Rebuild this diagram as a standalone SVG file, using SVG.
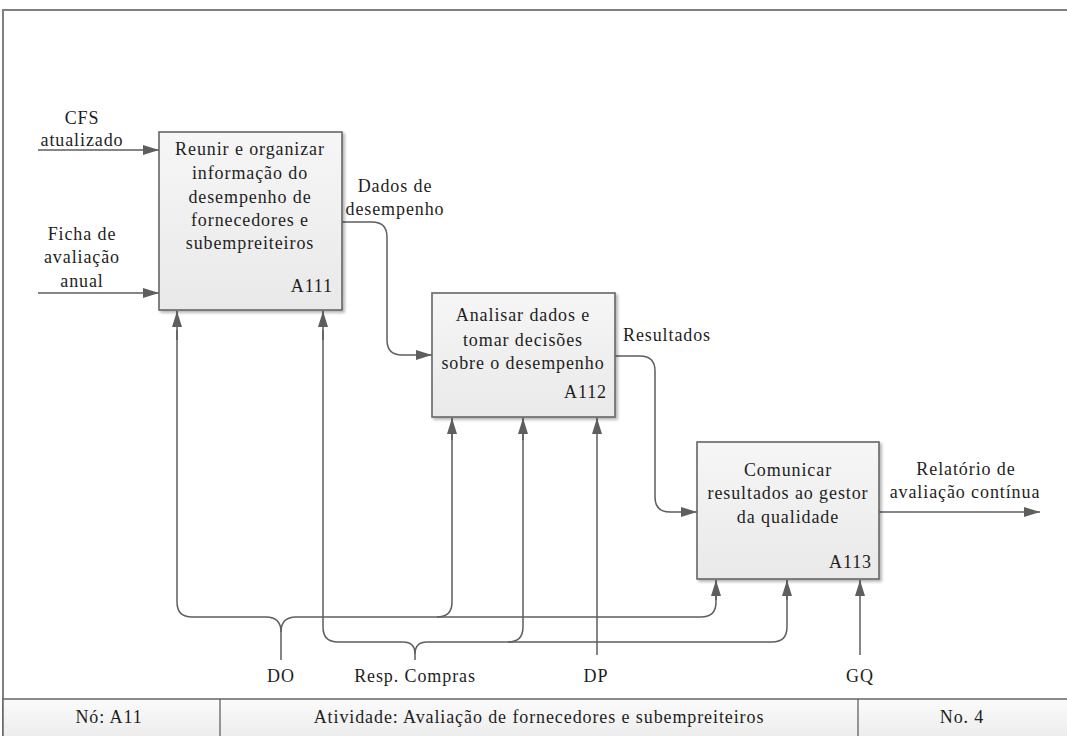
<svg xmlns="http://www.w3.org/2000/svg" width="1067" height="736" viewBox="0 0 1067 736" font-family="Liberation Serif, serif">
<defs>
<style>
text{font-family:'Liberation Serif','Times New Roman',serif;font-size:18px;fill:#1e1e1e;letter-spacing:0.9px}
.c{text-anchor:middle}
.r{text-anchor:end}
.box{fill:url(#bg);stroke:#666;stroke-width:1.6}
.ln{fill:none;stroke:#5e5e5e;stroke-width:1.5}
.la{fill:none;stroke:#5e5e5e;stroke-width:1.5;marker-end:url(#ah)}
.frame{fill:none;stroke:#808080;stroke-width:2}
</style>
<linearGradient id="bg" x1="0" y1="0" x2="0" y2="1">
<stop offset="0" stop-color="#f6f6f6"/>
<stop offset="1" stop-color="#e9e9e9"/>
</linearGradient>
<linearGradient id="fg" x1="0" y1="0" x2="0" y2="1">
<stop offset="0" stop-color="#fbfbfb"/>
<stop offset="1" stop-color="#ececec"/>
</linearGradient>
<filter id="sh" x="-10%" y="-10%" width="130%" height="130%">
<feDropShadow dx="2" dy="2" stdDeviation="1.5" flood-color="#000" flood-opacity="0.3"/>
</filter>
<marker id="ah" viewBox="0 0 16 10" refX="16" refY="5" markerWidth="16" markerHeight="10" markerUnits="userSpaceOnUse" orient="auto">
<path d="M0,0 L16,5 L0,10 Z" fill="#5e5e5e"/>
</marker>
</defs>
<rect x="0" y="0" width="1067" height="736" fill="#fff"/>
<g id="frame">
<path class="frame" d="M3,736 V10 H1067"/>
<rect x="3" y="699" width="1074" height="40" fill="url(#fg)" stroke="#666" stroke-width="1.5"/>
<line x1="220" y1="699" x2="220" y2="736" stroke="#555" stroke-width="1.2"/>
<line x1="858" y1="699" x2="858" y2="736" stroke="#555" stroke-width="1.2"/>
<text class="c" x="109" y="723">Nó: A11</text>
<text class="c" x="539" y="723">Atividade: Avaliação de fornecedores e subempreiteiros</text>
<text class="c" x="962" y="723">No. 4</text>
</g>
<g id="connectors">
<path class="la" d="M38,150 H159"/>
<path class="la" d="M38,293 H159"/>
<path class="la" d="M342,222 H372 Q387,222 387,237 V340 Q387,355 402,355 H432"/>
<path class="la" d="M615,356 H640 Q655,356 655,371 V497 Q655,512 670,512 H697"/>
<path class="la" d="M879,512 H1040"/>
<path class="ln" d="M281,660 V632 Q281,617 266,617 H192 Q177,617 177,602 V330"/>
<path class="la" d="M177,340 V311"/>
<path class="ln" d="M281,632 Q281,617 296,617 H701 Q716,617 716,602 V590"/>
<path class="la" d="M716,600 V580"/>
<path class="ln" d="M437,617 Q452,617 452,602 V430"/>
<path class="la" d="M452,440 V418"/>
<path class="ln" d="M415,660 V654 Q415,642 403,642 H338 Q323,642 323,627 V330"/>
<path class="la" d="M323,340 V311"/>
<path class="ln" d="M415,654 Q415,642 427,642 H772 Q787,642 787,627 V590"/>
<path class="la" d="M787,600 V580"/>
<path class="ln" d="M508,642 Q523,642 523,627 V430"/>
<path class="la" d="M523,440 V418"/>
<path class="la" d="M597,655 V418"/>
<path class="la" d="M860,655 V580"/>
</g>
<g id="labels">
<text class="c" x="82" y="124">CFS</text>
<text class="c" x="82" y="146">atualizado</text>
<text class="c" x="82" y="240">Ficha de</text>
<text class="c" x="82" y="263">avaliação</text>
<text class="c" x="82" y="287">anual</text>
<text class="c" x="395" y="192">Dados de</text>
<text class="c" x="395" y="215">desempenho</text>
<text class="c" x="667" y="341">Resultados</text>
<text class="c" x="966" y="475">Relatório de</text>
<text class="c" x="965" y="498">avaliação contínua</text>
<text class="c" x="281" y="682">DO</text>
<text class="c" x="415" y="682">Resp. Compras</text>
<text class="c" x="596" y="682">DP</text>
<text class="c" x="860" y="682">GQ</text>
</g>
<g id="A111">
<rect class="box" x="159" y="132" width="183" height="178" filter="url(#sh)"/>
<text class="c" x="250" y="155">Reunir e organizar</text>
<text class="c" x="250" y="179">informação do</text>
<text class="c" x="250" y="203">desempenho de</text>
<text class="c" x="250" y="226">fornecedores e</text>
<text class="c" x="250" y="249">subempreiteiros</text>
<text class="r" x="333" y="292">A111</text>
</g>
<g id="A112">
<rect class="box" x="432" y="293" width="183" height="124" filter="url(#sh)"/>
<text class="c" x="523" y="321">Analisar dados e</text>
<text class="c" x="523" y="346">tomar decisões</text>
<text class="c" x="523" y="369">sobre o desempenho</text>
<text class="r" x="607" y="398">A112</text>
</g>
<g id="A113">
<rect class="box" x="697" y="442" width="182" height="137" filter="url(#sh)"/>
<text class="c" x="788" y="476">Comunicar</text>
<text class="c" x="788" y="499">resultados ao gestor</text>
<text class="c" x="788" y="523">da qualidade</text>
<text class="r" x="872" y="568">A113</text>
</g>
</svg>
